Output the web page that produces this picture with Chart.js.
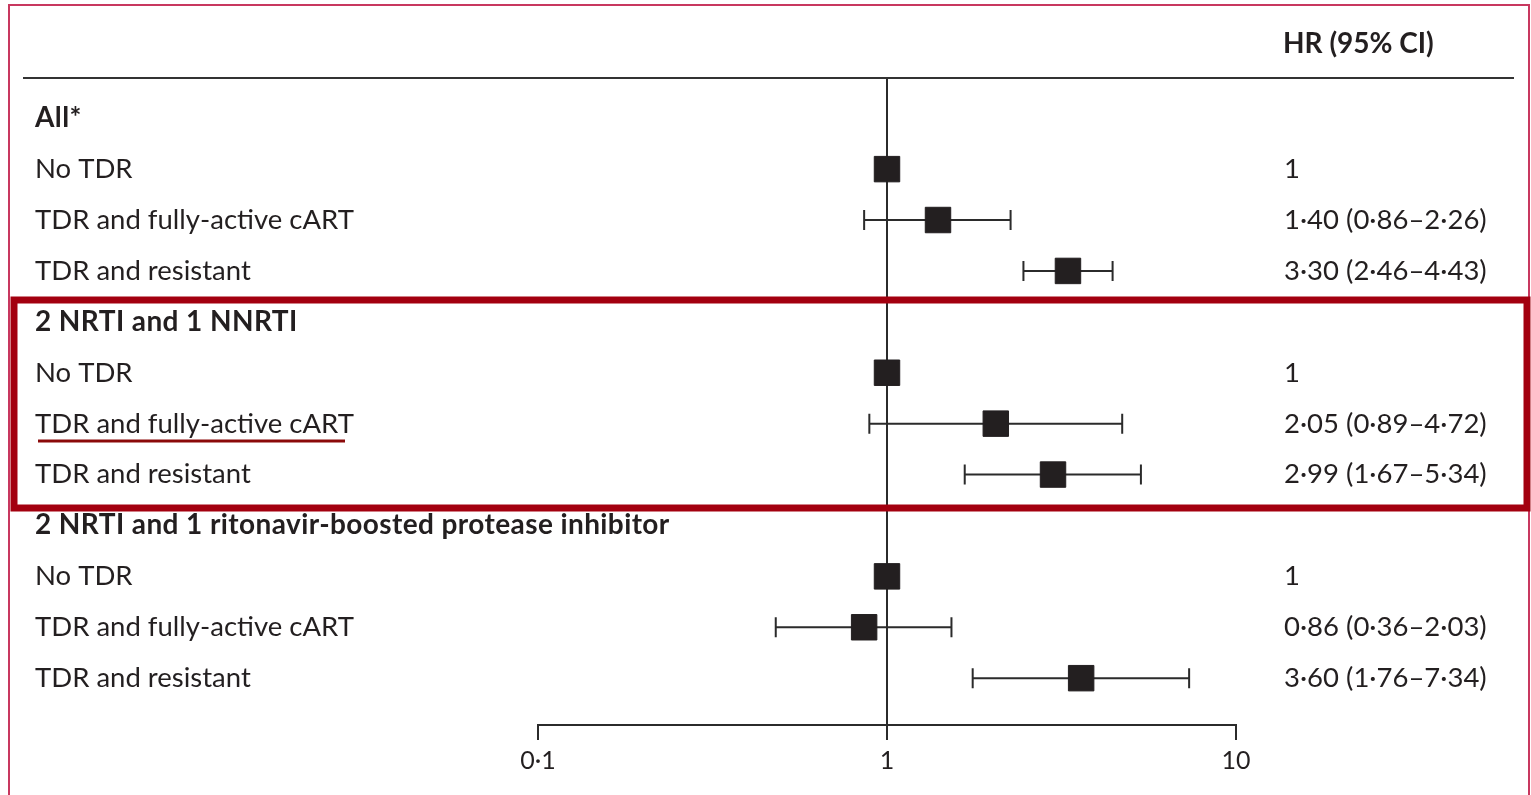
<!DOCTYPE html>
<html>
<head>
<meta charset="utf-8">
<script src="https://cdn.jsdelivr.net/npm/chart.js@4"></script>
<style>
  body { margin: 0; background: #fff; }
  #wrap { width: 1531px; height: 795px; position: relative; }
</style>
</head>
<body>
<div id="wrap"><canvas id="forest"></canvas></div>
<script>
// rows of the forest plot, top to bottom
var rowLabels = ['All*', 'No TDR', 'TDR and fully-active cART', 'TDR and resistant',
    '2 NRTI and 1 NNRTI', 'No TDR', 'TDR and fully-active cART', 'TDR and resistant',
    '2 NRTI and 1 ritonavir-boosted protease inhibitor', 'No TDR', 'TDR and fully-active cART', 'TDR and resistant'];
var isHeader = [true, false, false, false, true, false, false, false, true, false, false, false];
var hr = [null, 1, 1.40, 3.30, null, 1, 2.05, 2.99, null, 1, 0.86, 3.60];
var ciLow = [null, null, 0.86, 2.46, null, null, 0.89, 1.67, null, null, 0.48, 1.76];
var ciHigh = [null, null, 2.26, 4.43, null, null, 4.72, 5.34, null, null, 1.53, 7.34];
var hrText = ['', '1', '1·40 (0·86–2·26)', '3·30 (2·46–4·43)',
    '', '1', '2·05 (0·89–4·72)', '2·99 (1·67–5·34)',
    '', '1', '0·86 (0·36–2·03)', '3·60 (1·76–7·34)'];
var xTicks = [0.1, 1, 10];
var xTickLabels = ['0·1', '1', '10'];

var ink = '#231f20';
var fontFam = 'Lato, "Open Sans", sans-serif';

var points = [];
for (var i = 0; i < hr.length; i++) {
    if (hr[i] !== null) points.push({ x: hr[i], y: i });
}

// whiskers, text and frames
var forestDeco = {
    id: 'forestDeco',
    beforeDatasetsDraw: function (chart) {
        var c = chart.ctx, xs = chart.scales.x, ys = chart.scales.y;
        c.save();
        c.strokeStyle = '#2b2b2b';
        c.lineWidth = 2;
        for (var i = 0; i < ciLow.length; i++) {
            if (ciLow[i] === null) continue;
            var y = ys.getPixelForValue(i);
            var x1 = xs.getPixelForValue(ciLow[i]);
            var x2 = xs.getPixelForValue(ciHigh[i]);
            c.beginPath();
            c.moveTo(x1, y); c.lineTo(x2, y);
            c.moveTo(x1, y - 10); c.lineTo(x1, y + 10);
            c.moveTo(x2, y - 10); c.lineTo(x2, y + 10);
            c.stroke();
        }
        c.restore();
    },
    afterDraw: function (chart) {
        var c = chart.ctx, ys = chart.scales.y;
        c.save();
        c.fillStyle = ink;
        c.textBaseline = 'middle';
        c.textAlign = 'left';
        for (var i = 0; i < rowLabels.length; i++) {
            var y = ys.getPixelForValue(i);
            if (isHeader[i]) {
                c.font = 'bold 28px ' + fontFam;
                c.letterSpacing = '0.4px';
            } else {
                c.font = '27.5px ' + fontFam;
                c.letterSpacing = '0px';
            }
            c.fillText(rowLabels[i], 35, y);
            c.font = '27.5px ' + fontFam;
            c.letterSpacing = '0px';
            if (hrText[i]) c.fillText(hrText[i], 1284, y);
        }
        c.font = 'bold 28px ' + fontFam;
        c.fillText('HR (95% CI)', 1283, 44);

        // top rule
        c.strokeStyle = '#333';
        c.lineWidth = 2;
        c.beginPath(); c.moveTo(23, 78); c.lineTo(1514, 78); c.stroke();

        // outer frame
        c.strokeStyle = '#c8385f';
        c.lineWidth = 2;
        c.strokeRect(9, 5, 1520, 800);

        // highlight box
        c.strokeStyle = '#a3000f';
        c.lineWidth = 7;
        c.strokeRect(14, 300, 1513, 208);

        // underline
        c.strokeStyle = '#8b0a0a';
        c.lineWidth = 3;
        c.beginPath(); c.moveTo(38, 441); c.lineTo(345, 441); c.stroke();
        c.restore();
    }
};

var ctx = document.getElementById('forest').getContext('2d');
var forest = new Chart(ctx, {
    type: 'scatter',
    data: {
        datasets: [{
            label: 'HR',
            data: points,
            pointStyle: 'rect',
            pointRadius: 18,
            pointHoverRadius: 18,
            backgroundColor: ink,
            borderColor: ink,
            borderWidth: 1
        }]
    },
    options: {
        responsive: true,
        maintainAspectRatio: false,
        animation: false,
        layout: { padding: { left: 538, right: 295, top: 78, bottom: 15 } },
        plugins: { legend: { display: false }, tooltip: { enabled: false } },
        scales: {
            x: {
                type: 'logarithmic',
                min: 0.1,
                max: 10,
                afterBuildTicks: function (axis) {
                    axis.ticks = xTicks.map(function (v) { return { value: v }; });
                },
                afterFit: function (axis) { axis.height = 55; },
                ticks: {
                    autoSkip: false,
                    maxRotation: 0,
                    padding: 6,
                    color: ink,
                    font: { family: fontFam, size: 25 },
                    callback: function (v, idx) { return xTickLabels[idx]; }
                },
                grid: {
                    color: function (ctx) { return ctx.tick && ctx.tick.value === 1 ? '#2b2b2b' : 'rgba(0,0,0,0)'; },
                    tickColor: '#2b2b2b',
                    lineWidth: 2,
                    tickLength: 15
                },
                border: { color: '#2b2b2b', width: 2 }
            },
            y: {
                type: 'linear',
                reverse: true,
                min: -0.79,
                max: 11.92,
                display: false
            }
        }
    },
    plugins: [forestDeco]
});
</script>
</body>
</html>
